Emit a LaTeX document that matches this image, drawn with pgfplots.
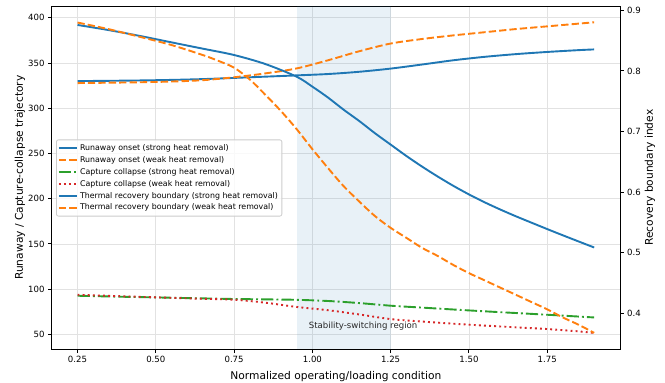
\documentclass[border=0pt]{standalone}
\usepackage{fontspec}
\setmainfont{DejaVu Sans}
\usepackage{pgfplots}
\pgfplotsset{compat=1.18}
\definecolor{tabblue}{HTML}{1F77B4}
\definecolor{taborange}{HTML}{FF7F0E}
\definecolor{tabgreen}{HTML}{2CA02C}
\definecolor{tabred}{HTML}{D62728}
\definecolor{gridgray}{HTML}{E2E2E2}
\tikzset{
  sblue/.style={tabblue, line width=1.9bp},
  dorange/.style={taborange, line width=1.9bp, dash pattern=on 7.3bp off 3.1bp},
  ddgreen/.style={tabgreen, line width=1.9bp, dash pattern=on 12.3bp off 3.1bp on 1.9bp off 3.1bp},
  dotred/.style={tabred, line width=1.9bp, dash pattern=on 1.9bp off 3.2bp},
}
\pgfplotsset{
  common/.style={
    scale only axis, width=568.3bp, height=343.3bp,
    xmin=0.1675, xmax=1.9825,
    tick align=outside,
    major tick length=3.7bp,
    every tick/.style={black, line width=0.86bp},
    /pgf/number format/assume math mode=true,
    tick label style={font=\fontsize{8.6}{10}\selectfont, black},
    label style={font=\fontsize{10.7}{12.8}\selectfont},
    axis line style={line width=0.9bp, black},
  }
}
\pgfplotstableread{
x     runS   runW   capS  capW
0.25  330.0  327.8  92.7  93.8
0.35  330.3  328.2  91.9  92.6
0.45  330.7  328.7  91.2  91.5
0.55  331.3  329.5  90.5  90.4
0.65  332.2  331.0  89.8  89.3
0.75  333.5  334.2  89.1  88.3
0.85  334.9  338.5  88.7  85.0
0.95  336.3  344.0  88.2  80.3
1.05  337.8  353.0  86.9  76.7
1.15  340.3  363.0  84.6  72.0
1.25  343.8  371.5  81.7  66.9
1.35  348.3  376.5  79.6  64.2
1.45  353.0  380.5  77.5  61.8
1.55  356.8  384.0  75.5  59.7
1.65  359.8  387.5  73.6  57.8
1.75  362.2  390.5  71.7  55.9
1.85  364.2  393.5  69.7  53.3
1.90  365.0  395.0  68.7  51.5
}\lefttable
\pgfplotstableread{
x     thS
0.25  0.8758
0.35  0.8673
0.45  0.8576
0.55  0.8471
0.65  0.8367
0.75  0.8262
0.85  0.8113
0.95  0.7904
1.00  0.7740
1.05  0.7560
1.10  0.7359
1.15  0.7172
1.20  0.6971
1.25  0.6784
1.30  0.6597
1.35  0.6422
1.40  0.6258
1.45  0.6104
1.50  0.5962
1.55  0.5832
1.60  0.5713
1.65  0.5601
1.70  0.5495
1.75  0.5390
1.80  0.5287
1.85  0.5186
1.90  0.5086
}\thstrong
\pgfplotstableread{
x     thW
0.25  0.8798
0.35  0.8688
0.45  0.8561
0.55  0.8427
0.65  0.8262
0.70  0.8165
0.75  0.8053
0.80  0.7859
0.85  0.7605
0.90  0.7336
0.95  0.7038
1.00  0.6709
1.05  0.6396
1.10  0.6097
1.15  0.5843
1.20  0.5604
1.25  0.5410
1.30  0.5246
1.35  0.5081
1.40  0.4947
1.45  0.4798
1.50  0.4663
1.55  0.4544
1.60  0.4424
1.65  0.4305
1.70  0.4185
1.75  0.4066
1.80  0.3931
1.85  0.3812
1.90  0.3677
}\thweak
\begin{document}
\begin{tikzpicture}
\path[use as bounding box] (-51.7bp,-33.7bp) rectangle (613.3bp,349.3bp);
\begin{axis}[common,
  ymin=33.5, ymax=413,
  xtick={0.25,0.5,0.75,1,1.25,1.5,1.75},
  xticklabels={0.25,0.50,0.75,1.00,1.25,1.50,1.75},
  ytick={50,100,150,200,250,300,350,400},
  xtick pos=bottom, ytick pos=left,
  grid=major, major grid style={gridgray, line width=0.8bp},
  xlabel={Normalized operating/loading condition},
  ylabel={Runaway / Capture-collapse trajectory},
  xlabel style={at={(axis description cs:0.5,-0.0874)}, anchor=base},
  ylabel style={at={(axis description cs:-0.0558,0.5)}, anchor=center},
]
\addplot[fill=tabblue, fill opacity=0.1, draw=none, forget plot]
  coordinates {(0.95,33.5) (0.95,413) (1.25,413) (1.25,33.5)} -- cycle;
\addplot[sblue, smooth] table[x=x, y=runS] {\lefttable};
\addplot[dorange, smooth] table[x=x, y=runW] {\lefttable};
\addplot[ddgreen, smooth] table[x=x, y=capS] {\lefttable};
\addplot[dotred, smooth] table[x=x, y=capW] {\lefttable};
\node[font=\fontsize{8.6}{10}\selectfont, text=black!85] at (axis cs:1.162,59.6) {Stability-switching region};
\end{axis}
\begin{axis}[common,
  ymin=0.3406, ymax=0.9071,
  axis x line=none, axis y line*=right,
  ytick={0.4,0.5,0.6,0.7,0.8,0.9},
  yticklabels={0.4,0.5,0.6,0.7,0.8,0.9},
  ylabel={Recovery boundary index},
  ylabel style={at={(axis description cs:1.0528,0.5)}, anchor=center, rotate=0},
  legend style={at={(axis description cs:0.0076,0.499)}, anchor=west,
    font=\fontsize{7.9}{9.4}\selectfont, draw=black!20, line width=0.8bp,
    fill=white, fill opacity=0.8, text opacity=1, rounded corners=2bp,
    inner xsep=1.5bp, inner ysep=2.5bp, nodes={inner xsep=2.5bp, inner ysep=2.2bp}},
  legend cell align=left,
  legend image code/.code={\draw[#1] (0bp,0bp) -- (17.7bp,0bp);},
]
\addlegendimage{sblue}
\addlegendentry{Runaway onset (strong heat removal)}
\addlegendimage{dorange}
\addlegendentry{Runaway onset (weak heat removal)}
\addlegendimage{ddgreen}
\addlegendentry{Capture collapse (strong heat removal)}
\addlegendimage{dotred}
\addlegendentry{Capture collapse (weak heat removal)}
\addplot[sblue, smooth] table[x=x, y=thS] {\thstrong};
\addlegendentry{Thermal recovery boundary (strong heat removal)}
\addplot[dorange, smooth] table[x=x, y=thW] {\thweak};
\addlegendentry{Thermal recovery boundary (weak heat removal)}
\end{axis}
\end{tikzpicture}
\end{document}
